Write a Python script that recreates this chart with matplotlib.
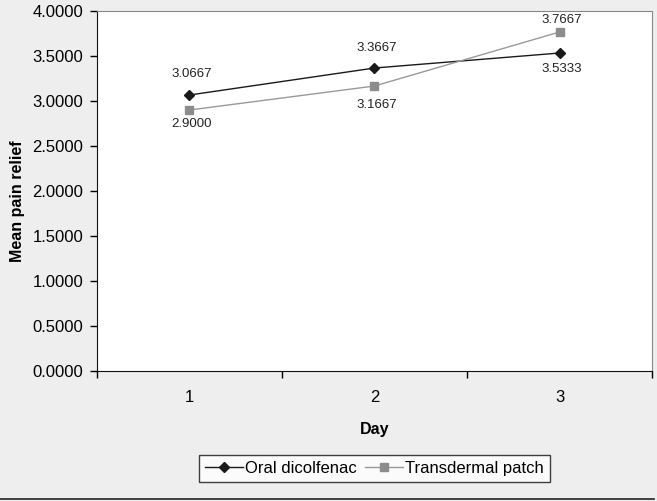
import matplotlib
matplotlib.use("Agg")
import matplotlib.pyplot as plt
from matplotlib.lines import Line2D

plt.rcParams["font.family"] = ["Liberation Sans", "DejaVu Sans"]

days = [1, 2, 3]
day_labels = ["1", "2", "3"]
oral = [3.0667, 3.3667, 3.5333]
patch = [2.9000, 3.1667, 3.7667]
y_ticks = [0.0, 0.5, 1.0, 1.5, 2.0, 2.5, 3.0, 3.5, 4.0]

# vertical offsets (points) of the value labels
oral_dy = [15, 14.5, -11.5]
patch_dy = [-10, -13.5, 9]

bg = "#eeeeee"
fig = plt.figure(figsize=(6.57, 5.01), dpi=100, facecolor=bg)
ax = fig.add_axes([0.1476, 0.2595, 0.8448, 0.7185])
ax.set_facecolor("white")

ax.plot(days, oral, color="#1a1a1a", lw=1.0, marker="D", ms=5,
        mfc="#1a1a1a", mec="#1a1a1a", label="Oral dicolfenac")
ax.plot(days, patch, color="#999999", lw=1.0, marker="s", ms=5.5,
        mfc="#8c8c8c", mec="#8c8c8c", label="Transdermal patch")

for x, y, dy in zip(days, oral, oral_dy):
    ax.annotate(f"{y:.4f}", (x, y), xytext=(1.5, dy), textcoords="offset points",
                ha="center", va="center", fontsize=9.5, color="#222222")
for x, y, dy in zip(days, patch, patch_dy):
    ax.annotate(f"{y:.4f}", (x, y), xytext=(1.5, dy), textcoords="offset points",
                ha="center", va="center", fontsize=9.5, color="#222222")

ax.set_xlim(0.5, 3.5)
ax.set_ylim(0, 4)
ax.set_yticks(y_ticks)
ax.set_yticklabels([f"{t:.4f}" for t in y_ticks], fontsize=12)
ax.set_xticks([0.5, 1.5, 2.5, 3.5])
ax.set_xticklabels([])
ax.set_xticks(days, minor=True)
ax.set_xticklabels(day_labels, minor=True, fontsize=12)
ax.tick_params(axis="x", which="major", direction="out", length=5, width=1)
ax.tick_params(axis="x", which="minor", length=0, pad=14)
ax.tick_params(axis="y", direction="out", length=5, width=1, pad=5)

for side in ["top", "right"]:
    ax.spines[side].set_color("#888888")
for side in ["left", "bottom"]:
    ax.spines[side].set_color("#111111")

ax.set_ylabel("Mean pain relief", fontsize=11.5, fontweight="bold")
ax.yaxis.set_label_coords(-0.130, 0.472)
ax.set_xlabel("Day", fontsize=11.5, fontweight="bold", labelpad=12)

leg = ax.legend(loc="upper center", bbox_to_anchor=(0.5, -0.21), ncol=2,
                frameon=True, fancybox=False, fontsize=12, handlelength=2.3,
                handletextpad=0.1, columnspacing=0.5, borderpad=0.35)
leg.get_frame().set_edgecolor("#111111")
leg.get_frame().set_linewidth(1.0)
leg.get_frame().set_facecolor("white")

fig.add_artist(Line2D([0, 0.995], [0.003, 0.003], transform=fig.transFigure,
                      color="#222222", lw=1.2))

fig.savefig("out.png", dpi=100, facecolor=bg)
